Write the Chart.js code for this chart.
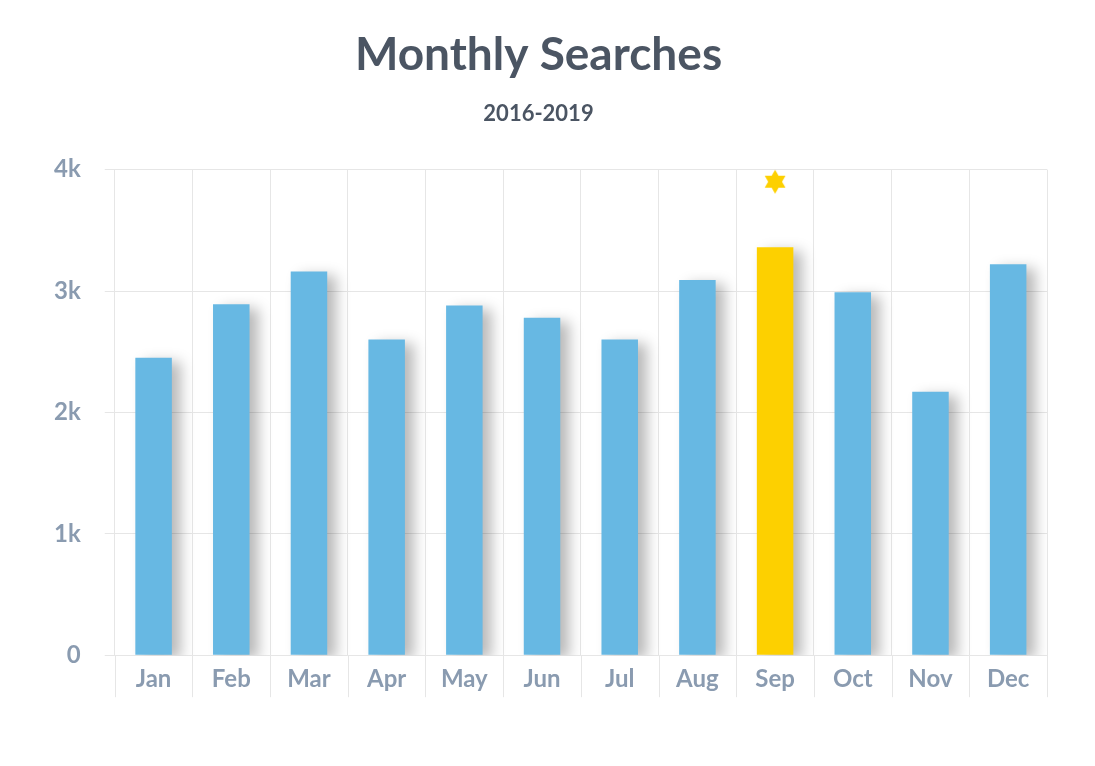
<!DOCTYPE html>
<html>
<head>
<meta charset="utf-8">
<script src="https://cdn.jsdelivr.net/npm/chart.js@4"></script>
<style>
  body { margin: 0; background: #fff; }
  #wrap { width: 1095px; height: 766px; }
</style>
</head>
<body>
<div id="wrap"><canvas id="chart"></canvas></div>
<script>
const months = ['Jan', 'Feb', 'Mar', 'Apr', 'May', 'Jun', 'Jul', 'Aug', 'Sep', 'Oct', 'Nov', 'Dec'];
const searches = [2450, 2890, 3160, 2600, 2880, 2780, 2600, 3090, 3360, 2990, 2170, 3220];
const highlight = [null, null, null, null, null, null, null, null, 3900, null, null, null];
const yTicks = [0, 1000, 2000, 3000, 4000];

const blue = '#67b8e3';
const gold = '#fdd000';

// six-pointed star for the highlighted month
function makeStar() {
    const c = document.createElement('canvas');
    c.width = 28; c.height = 28;
    const g = c.getContext('2d');
    g.fillStyle = gold;
    const tri = (rot) => {
        g.beginPath();
        for (let i = 0; i < 3; i++) {
            const a = rot + i * 2 * Math.PI / 3;
            g.lineTo(14 + 12 * Math.sin(a), 14 - 12 * Math.cos(a));
        }
        g.closePath();
        g.fill();
    };
    tri(0);
    tri(Math.PI);
    return c;
}

const shadowPlugin = {
    id: 'barShadow',
    beforeDatasetDraw(chart, args) {
        if (args.index !== 0) return;
        const ctx = chart.ctx;
        ctx.save();
        ctx.shadowColor = 'rgba(0,0,0,0.28)';
        ctx.shadowBlur = 14;
        ctx.shadowOffsetX = 9;
        ctx.shadowOffsetY = 4;
    },
    afterDatasetDraw(chart, args) {
        if (args.index !== 0) return;
        chart.ctx.restore();
    }
};

// vertical grid lines continue down past the month labels
const gridExtend = {
    id: 'gridExtend',
    beforeDraw(chart) {
        const x = chart.scales.x;
        const ctx = chart.ctx;
        const bottom = chart.chartArea.bottom;
        ctx.save();
        ctx.strokeStyle = '#e6e6e6';
        ctx.lineWidth = 1;
        for (let i = 0; i <= months.length; i++) {
            const px = Math.round(x.left + (x.right - x.left) * i / months.length) + 0.5;
            ctx.beginPath();
            ctx.moveTo(px, bottom);
            ctx.lineTo(px, bottom + 42);
            ctx.stroke();
        }
        ctx.restore();
    }
};

new Chart(document.getElementById('chart').getContext('2d'), {
    data: {
        labels: months,
        datasets: [{
            type: 'bar',
            data: searches,
            backgroundColor: months.map((m, i) => i === 8 ? gold : blue),
            barPercentage: 0.47,
            categoryPercentage: 1,
            order: 2
        }, {
            type: 'line',
            data: highlight,
            showLine: false,
            pointStyle: makeStar(),
            order: 1
        }]
    },
    options: {
        responsive: true,
        maintainAspectRatio: false,
        animation: false,
        layout: { padding: { left: 30, right: 48, top: 10, bottom: 62 } },
        plugins: {
            legend: { display: false },
            tooltip: { enabled: false },
            title: {
                display: true,
                text: 'Monthly Searches',
                color: '#4b5563',
                font: { family: 'Lato', size: 46, weight: 'bold' },
                padding: { top: 18, bottom: 4 }
            },
            subtitle: {
                display: true,
                text: '2016-2019',
                color: '#4b5563',
                font: { family: 'Lato', size: 22, weight: 'bold' },
                padding: { top: 14, bottom: 42 }
            }
        },
        scales: {
            x: {
                grid: { color: '#e6e6e6', offset: true, drawTicks: false },
                border: { color: '#e6e6e6' },
                ticks: {
                    color: '#8a9bb0',
                    padding: 10,
                    font: { family: 'Lato', size: 24, weight: 'bold' }
                }
            },
            y: {
                min: 0,
                max: 4000,
                afterBuildTicks(axis) { axis.ticks = yTicks.map(v => ({ value: v })); },
                grid: { color: '#e6e6e6', tickLength: 10 },
                border: { display: false },
                ticks: {
                    color: '#8a9bb0',
                    padding: 24,
                    font: { family: 'Lato', size: 24, weight: 'bold' },
                    callback: v => v === 0 ? '0' : (v / 1000) + 'k'
                }
            }
        }
    },
    plugins: [shadowPlugin, gridExtend]
});
</script>
</body>
</html>
